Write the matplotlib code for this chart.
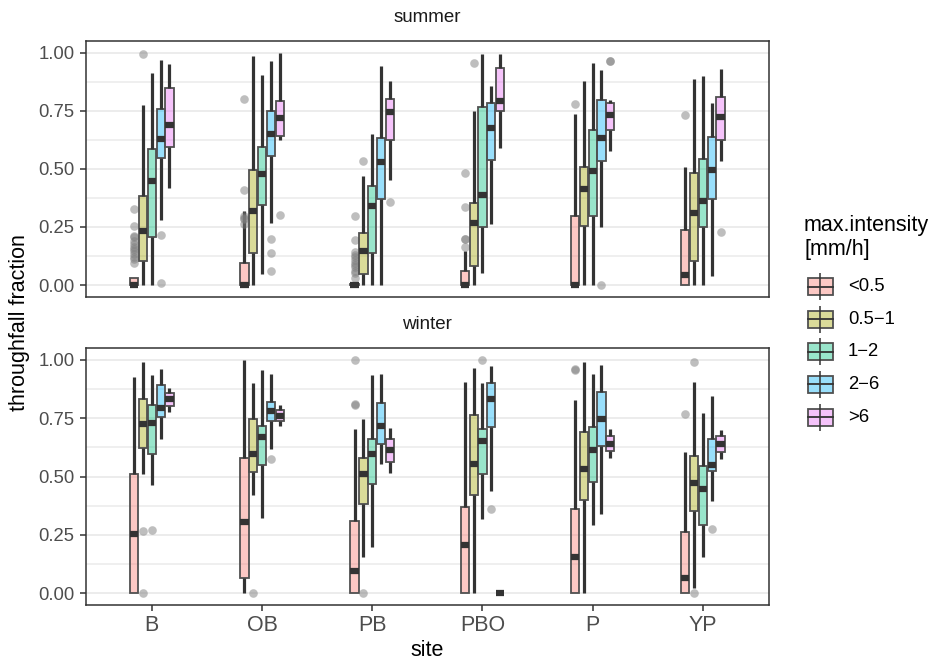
import matplotlib.pyplot as plt
import numpy as np
from matplotlib.colors import to_rgba
from matplotlib.patches import Rectangle

plt.rcParams['font.family'] = ['Liberation Sans', 'DejaVu Sans']

sites = ['B', 'OB', 'PB', 'PBO', 'P', 'YP']
classes = ['<0.5', '0.5\u22121', '1\u22122', '2\u22126', '>6']
colors = ['#F8766D', '#A3A500', '#00BF7D', '#00B0F6', '#E76BF3']

# rows = intensity class, columns = site
summer_lo = [[0, 0, 0, 0, 0, 0],
             [0, 0, 0, 0, 0, 0],
             [0, 0.047, 0, 0.052, 0, 0],
             [0.280, 0.267, 0, 0.263, 0.251, 0.037],
             [0.418, 0.622, 0.453, 0.591, 0.576, 0.533]]
summer_q1 = [[0, 0, 0, 0, 0, 0],
             [0.105, 0.136, 0.047, 0.083, 0.256, 0.102],
             [0.205, 0.345, 0.138, 0.248, 0.299, 0.248],
             [0.547, 0.557, 0.369, 0.539, 0.533, 0.371],
             [0.593, 0.642, 0.622, 0.747, 0.665, 0.626]]
summer_med = [[0, 0, 0, 0, 0, 0.043],
              [0.234, 0.320, 0.145, 0.266, 0.414, 0.310],
              [0.447, 0.478, 0.339, 0.389, 0.490, 0.363],
              [0.629, 0.648, 0.528, 0.677, 0.634, 0.496],
              [0.687, 0.720, 0.744, 0.794, 0.730, 0.725]]
summer_q3 = [[0.030, 0.095, 0.004, 0.062, 0.299, 0.237],
             [0.385, 0.496, 0.224, 0.352, 0.507, 0.481],
             [0.586, 0.593, 0.427, 0.766, 0.665, 0.543],
             [0.759, 0.751, 0.632, 0.783, 0.797, 0.636],
             [0.849, 0.791, 0.799, 0.935, 0.783, 0.809]]
summer_hi = [[0.030, 0.320, 0.004, 0.145, 0.734, 0.510],
             [0.773, 0.984, 0.471, 0.751, 0.876, 0.888],
             [0.912, 0.902, 0.648, 0.993, 0.955, 0.898],
             [0.967, 0.963, 0.941, 0.855, 0.927, 0.783],
             [0.950, 1.000, 0.876, 0.996, 0.797, 0.931]]
summer_out = [
    [[0.328, 0.256, 0.21, 0.205, 0.19, 0.177, 0.165, 0.155, 0.145, 0.134, 0.12, 0.112, 0.097],
     [0.799, 0.409, 0.299, 0.29, 0.284, 0.263],
     [0.299, 0.195, 0.141, 0.13, 0.119, 0.108, 0.097, 0.087, 0.076, 0.062, 0.05, 0.030],
     [0.483, 0.334, 0.2, 0.198, 0.162],
     [0.777],
     [0.730]],
    [[0.996], [], [0.533], [0.955], [], []],
    [[], [], [], [], [], []],
    [[0.217, 0.009], [0.198, 0.138, 0.059], [], [], [0.0], []],
    [[], [0.302], [0.359], [], [0.962, 0.964], [0.230]],
]

winter_lo = [[0, 0, 0, 0, 0, 0],
             [0.512, 0.423, 0.157, 0, 0, 0.021],
             [0.463, 0.322, 0.198, 0.318, 0.291, 0.157],
             [0.662, 0.619, 0.555, 0.437, 0.340, 0.394],
             [0.776, 0.716, 0.516, 0, 0.580, 0.576]]
winter_q1 = [[0, 0.064, 0, 0, 0, 0],
             [0.623, 0.520, 0.384, 0.420, 0.401, 0.351],
             [0.598, 0.552, 0.470, 0.513, 0.477, 0.291],
             [0.755, 0.738, 0.642, 0.714, 0.633, 0.523],
             [0.802, 0.738, 0.563, 0, 0.612, 0.606]]
winter_med = [[0.255, 0.305, 0.096, 0.205, 0.155, 0.067],
              [0.724, 0.595, 0.513, 0.556, 0.533, 0.473],
              [0.731, 0.671, 0.595, 0.652, 0.616, 0.447],
              [0.795, 0.781, 0.719, 0.834, 0.745, 0.552],
              [0.831, 0.759, 0.613, 0, 0.642, 0.642]]
winter_q3 = [[0.510, 0.580, 0.311, 0.372, 0.361, 0.261],
             [0.834, 0.749, 0.580, 0.764, 0.690, 0.587],
             [0.805, 0.719, 0.663, 0.706, 0.712, 0.544],
             [0.891, 0.819, 0.814, 0.903, 0.864, 0.662],
             [0.857, 0.784, 0.663, 0, 0.676, 0.673]]
winter_hi = [[0.929, 1.000, 0.705, 0.907, 0.827, 0.606],
             [0.993, 0.903, 0.745, 0.967, 0.993, 0.907],
             [0.934, 0.957, 0.934, 0.903, 0.939, 0.774],
             [0.960, 0.942, 0.939, 0.974, 0.977, 0.845],
             [0.881, 0.805, 0.709, 0, 0.705, 0.702]]
winter_out = [
    [[], [], [1.0, 0.810, 0.806], [], [0.957, 0.962], [0.767]],
    [[0.265, 0.0], [0.0], [0.0], [], [], [0.993, 0.0]],
    [[0.272], [], [], [0.998], [], []],
    [[], [0.576], [], [0.361], [], [0.275]],
    [[], [], [], [], [], []],
]

seasons = ['summer', 'winter']
season_data = {
    'summer': (summer_lo, summer_q1, summer_med, summer_q3, summer_hi, summer_out),
    'winter': (winter_lo, winter_q1, winter_med, winter_q3, winter_hi, winter_out),
}

W, H = 938, 661
fig = plt.figure(figsize=(W / 100, H / 100), dpi=100)

left, right = 85.7, 769
panels = [(41, 296.7), (348.3, 605)]
dark = '#333333'
tick_col = '#4D4D4D'

axes = []
for (top, bot) in panels:
    ax = fig.add_axes([left / W, 1 - bot / H, (right - left) / W, (bot - top) / H])
    axes.append(ax)

x = np.arange(1, len(sites) + 1)
for ax, season in zip(axes, seasons):
    lo, q1, med, q3, hi, out = season_data[season]
    for k, cls in enumerate(classes):
        stats = []
        for j in range(len(sites)):
            stats.append(dict(whislo=lo[k][j], q1=q1[k][j], med=med[k][j],
                              q3=q3[k][j], whishi=hi[k][j], fliers=out[k][j]))
        ax.bxp(stats, positions=x + (k - 2) * 0.08, widths=0.075,
               patch_artist=True, showcaps=False, manage_ticks=False,
               boxprops=dict(facecolor=to_rgba(colors[k], 0.4), edgecolor='#505050', linewidth=1.3),
               whiskerprops=dict(color=dark, linewidth=2.3, solid_capstyle='butt'),
               medianprops=dict(color=dark, linewidth=4.5, solid_capstyle='butt'),
               flierprops=dict(marker='o', markerfacecolor='#7F7F7F', markeredgecolor='none',
                               alpha=0.5, markersize=6.2))

    ax.set_xlim(0.4, 6.6)
    ax.set_ylim(-0.05, 1.05)
    ax.set_yticks([0, 0.25, 0.5, 0.75, 1.0])
    ax.set_yticklabels(['0.00', '0.25', '0.50', '0.75', '1.00'])
    ax.set_yticks([0.125, 0.375, 0.625, 0.875], minor=True)
    ax.grid(axis='y', which='major', color='#EBEBEB', linewidth=1.3)
    ax.grid(axis='y', which='minor', color='#EBEBEB', linewidth=1.1)
    ax.set_axisbelow(True)
    ax.tick_params(axis='y', which='major', length=4, width=1.1, color=dark,
                   labelsize=13.3, labelcolor=tick_col, pad=4)
    ax.tick_params(axis='y', which='minor', length=0)
    for s in ax.spines.values():
        s.set_color(dark)
        s.set_linewidth(1.1)
    ax.set_xticks(x)
    ax.text(0.5, 1.0 + 24 / 256, season, transform=ax.transAxes, ha='center', va='center',
            fontsize=13.5, color='#1A1A1A')

axes[0].tick_params(axis='x', which='both', length=0, labelbottom=False)
axes[1].set_xticklabels(sites)
axes[1].tick_params(axis='x', length=4, width=1.1, color=dark, labelsize=15.5,
                    labelcolor=tick_col, pad=3)

fig.text((left + right) / 2 / W, 1 - 650 / H, 'site', ha='center', va='center', fontsize=15.5)
fig.text(20 / W, 1 - 323 / H, 'throughfall fraction', ha='center', va='center',
         rotation=90, fontsize=15.5)

# legend
lg = fig.add_axes([795 / W, 1 - 440 / H, 143 / W, 240 / H])
lg.set_xlim(795, 938)
lg.set_ylim(440, 200)
lg.axis('off')
lg.text(804, 226, 'max.intensity', ha='left', va='center', fontsize=15.5)
lg.text(804, 250, '[mm/h]', ha='left', va='center', fontsize=15.5)
key_y = [286.7, 319.3, 351.8, 384.4, 417.2]
for k, cls in enumerate(classes):
    cy = key_y[k]
    lg.plot([820, 820], [cy - 13.5, cy + 13.5], color=dark, lw=1.1, solid_capstyle='butt')
    lg.add_patch(Rectangle((807.5, cy - 8.5), 25, 17, facecolor=to_rgba(colors[k], 0.4),
                           edgecolor='#505050', linewidth=1.3))
    lg.plot([807.5, 832.5], [cy, cy], color=dark, lw=1.3)
    lg.text(848, cy, cls, ha='left', va='center', fontsize=13.3)

fig.savefig('out.png', dpi=100)
